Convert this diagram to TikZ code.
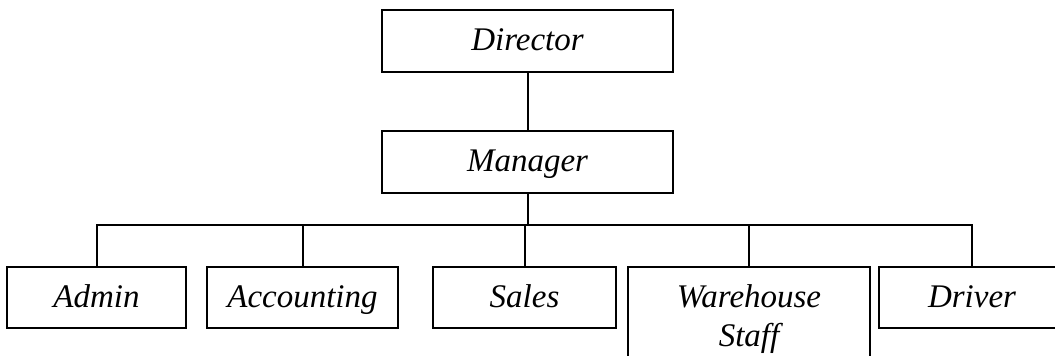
\documentclass[tikz,border=0pt]{standalone}
\usepackage{fontspec}
\setmainfont{Liberation Serif}
\begin{document}
\begin{tikzpicture}[x=1pt,y=-1pt,
  box/.style={draw,line width=2pt,rectangle,inner sep=0pt,font=\fontsize{33}{39}\selectfont\itshape},
  one/.style={text height=22pt,text depth=3pt},
  link/.style={line width=2pt}]
\useasboundingbox (0,0) rectangle (1055,356);
\clip (0,0) rectangle (1055,356);
\node[box,one,minimum width=291pt,minimum height=62pt] (director) at (527.5,41) {Director};
\node[box,one,minimum width=291pt,minimum height=62pt] (manager) at (527.5,162) {Manager};
\node[box,one,minimum width=179pt,minimum height=61pt] (admin) at (96.5,297.5) {Admin};
\node[box,one,minimum width=191pt,minimum height=61pt] (accounting) at (302.5,297.5) {Accounting};
\node[box,one,minimum width=183pt,minimum height=61pt] (sales) at (524.5,297.5) {Sales};
\node[box,align=center,minimum width=242pt,minimum height=104pt] (warehouse) at (749,319) {Warehouse\\Staff};
\node[box,one,minimum width=186pt,minimum height=61pt] (driver) at (972,297.5) {Driver};
\coordinate (bus) at (0,225);
\draw[link] (director) -- (manager);
\draw[link] (manager.south) -- (manager.south |- bus);
\draw[link] (admin.north) -- (admin.north |- bus) -- (driver.north |- bus) -- (driver.north);
\draw[link] (accounting.north) -- (accounting.north |- bus);
\draw[link] (sales.north) -- (sales.north |- bus);
\draw[link] (warehouse.north) -- (warehouse.north |- bus);
\end{tikzpicture}
\end{document}
